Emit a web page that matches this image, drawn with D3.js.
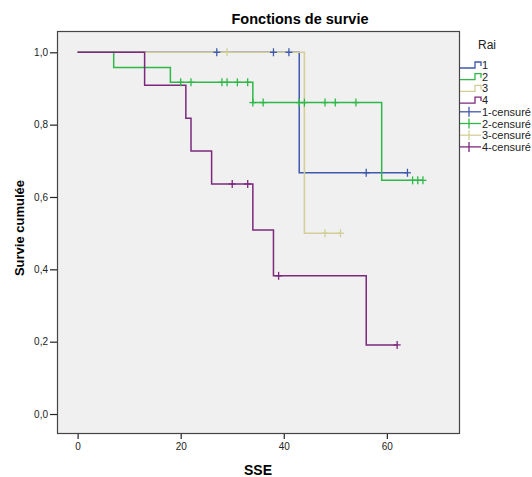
<!DOCTYPE html>
<html>
<head>
<meta charset="utf-8">
<script src="https://cdn.jsdelivr.net/npm/d3@7"></script>
<style>
  body { margin: 0; background: #ffffff; }
  svg { display: block; font-family: "Liberation Sans", Arial, sans-serif; }
</style>
</head>
<body>
<svg id="chart" width="532" height="477"></svg>
<script>
// ---- Data ----
const groupNames = ["1", "2", "3", "4"];
const groupColors = ["#3E58AC", "#2EB848", "#D3CE97", "#7C287D"];

// step times and survival levels after each step
const times1 = [0, 43];
const surv1  = [1.0, 0.667];
const end1 = 64;
const cens1 = [27, 38, 41, 56, 64];

const times2 = [0, 7, 18, 34, 59];
const surv2  = [1.0, 0.958, 0.917, 0.861, 0.646];
const end2 = 67;
const cens2 = [20, 22, 28, 29, 31, 33, 34, 36, 43, 44, 48, 50, 54, 65, 66, 67];

const times3 = [0, 44];
const surv3  = [1.0, 0.5];
const end3 = 51;
const cens3 = [29, 48, 51];

const times4 = [0, 13, 21, 22, 26, 34, 38, 56];
const surv4  = [1.0, 0.909, 0.818, 0.727, 0.636, 0.509, 0.382, 0.191];
const end4 = 62;
const cens4 = [30, 33, 39, 62];

const xTicks = [0, 20, 40, 60];
const yTicks = [0, 0.2, 0.4, 0.6, 0.8, 1.0];

const titleText = "Fonctions de survie";
const xTitle = "SSE";
const yTitle = "Survie cumulée";
const legendTitle = "Rai";

// ---- Build series ----
const series = [
  {name: groupNames[0], times: times1, surv: surv1, end: end1, cens: cens1},
  {name: groupNames[1], times: times2, surv: surv2, end: end2, cens: cens2},
  {name: groupNames[2], times: times3, surv: surv3, end: end3, cens: cens3},
  {name: groupNames[3], times: times4, surv: surv4, end: end4, cens: cens4}
];

// survival at time t (right-continuous step)
function survAt(s, t) {
  let v = s.surv[0];
  for (let i = 0; i < s.times.length; i++) if (s.times[i] <= t) v = s.surv[i];
  return v;
}

// ---- Layout ----
const svg = d3.select("#chart");
const plot = {left: 57, right: 459, top: 31, bottom: 433};

const x = d3.scaleLinear().domain([-4, 74]).range([plot.left, plot.right]);
const y = d3.scaleLinear().domain([-0.0525, 1.0589]).range([plot.bottom, plot.top]);

// plot background & frame
svg.append("rect")
  .attr("x", plot.left + 0.5).attr("y", plot.top + 0.5)
  .attr("width", plot.right - plot.left).attr("height", plot.bottom - plot.top)
  .attr("fill", "#F0F0F0").attr("stroke", "#444").attr("stroke-width", 1.2);

// axes
const fmt = d => d3.format(".1f")(d).replace(".", ",");

const gx = svg.append("g")
  .attr("transform", `translate(0,${plot.bottom + 1})`)
  .call(d3.axisBottom(x).tickValues(xTicks).tickSize(5).tickSizeOuter(0).tickPadding(4));
const gy = svg.append("g")
  .attr("transform", `translate(${plot.left},0)`)
  .call(d3.axisLeft(y).tickValues(yTicks).tickFormat(fmt).tickSize(7).tickSizeOuter(0).tickPadding(2));

[gx, gy].forEach(g => {
  g.select(".domain").remove();
  g.selectAll(".tick line").attr("stroke", "#222").attr("stroke-width", 1.2);
  g.selectAll(".tick text").attr("fill", "#222").style("font-size", "10px");
});

// step lines
const line = d3.line()
  .x(d => x(d[0]))
  .y(d => y(d[1]))
  .curve(d3.curveStepAfter);

series.forEach((s, i) => {
  const pts = s.times.map((t, k) => [t, s.surv[k]]);
  pts.push([s.end, s.surv[s.surv.length - 1]]);
  svg.append("path")
    .attr("d", line(pts))
    .attr("fill", "none")
    .attr("stroke", groupColors[i])
    .attr("stroke-width", 1.5);
});

// censor marks
series.forEach((s, i) => {
  const g = svg.append("g").attr("stroke", groupColors[i]).attr("stroke-width", 1.3);
  s.cens.forEach(t => {
    const cx = x(t), cy = y(survAt(s, t));
    g.append("line").attr("x1", cx).attr("x2", cx).attr("y1", cy - 4).attr("y2", cy + 4);
    g.append("line").attr("x1", cx - 3.5).attr("x2", cx + 3.5).attr("y1", cy).attr("y2", cy);
  });
});

// titles
svg.append("text")
  .attr("x", 300).attr("y", 24)
  .attr("text-anchor", "middle")
  .style("font-size", "14.5px").style("font-weight", "bold").attr("fill", "#000")
  .text(titleText);

svg.append("text")
  .attr("x", 258).attr("y", 475)
  .attr("text-anchor", "middle")
  .style("font-size", "14px").style("font-weight", "bold").attr("fill", "#000")
  .text(xTitle);

svg.append("text")
  .attr("transform", "translate(24,228) rotate(-90)")
  .attr("text-anchor", "middle")
  .style("font-size", "13px").style("font-weight", "bold").attr("fill", "#000")
  .text(yTitle);

// legend
const legX = 460, legY0 = 65, legDy = 11.7;
svg.append("text")
  .attr("x", 478).attr("y", 49)
  .style("font-size", "12px").attr("fill", "#222")
  .text(legendTitle);

series.forEach((s, i) => {
  const ly = legY0 + i * legDy;
  svg.append("path")
    .attr("d", `M${legX},${ly + 3}H${legX + 15}V${ly - 3}H${legX + 21}V${ly + 1}`)
    .attr("fill", "none").attr("stroke", groupColors[i]).attr("stroke-width", 1.3);
  svg.append("text")
    .attr("x", legX + 22).attr("y", ly + 4)
    .style("font-size", "11px").attr("fill", "#222")
    .text(s.name);
});

series.forEach((s, i) => {
  const ly = legY0 + (i + 4) * legDy;
  const g = svg.append("g").attr("stroke", groupColors[i]).attr("stroke-width", 1.3);
  g.append("line").attr("x1", legX).attr("x2", legX + 21).attr("y1", ly).attr("y2", ly);
  g.append("line").attr("x1", legX + 9).attr("x2", legX + 9).attr("y1", ly - 5).attr("y2", ly + 5);
  svg.append("text")
    .attr("x", legX + 22).attr("y", ly + 4)
    .style("font-size", "11px").attr("fill", "#222")
    .text(s.name + "-censuré");
});
</script>
</body>
</html>
